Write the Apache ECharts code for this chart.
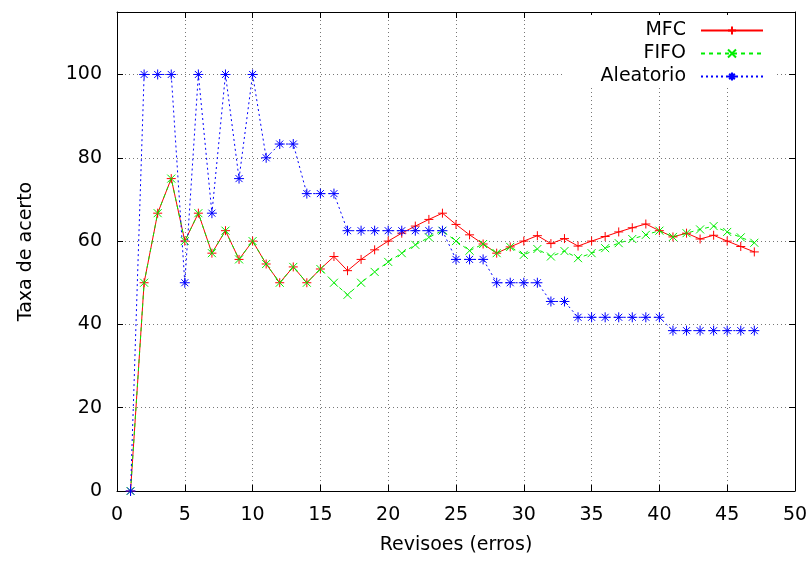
<!DOCTYPE html>
<html>
<head>
<meta charset="utf-8">
<script src="https://cdn.jsdelivr.net/npm/echarts@6/dist/echarts.min.js"></script>
<style>html,body{margin:0;padding:0;background:#fff}#c{width:811px;height:564px}</style>
</head>
<body>
<div id="c"></div>
<script>
const revisoes = [1,2,3,4,5,6,7,8,9,10,11,12,13,14,15,16,17,18,19,20,21,22,23,24,25,26,27,28,29,30,31,32,33,34,35,36,37,38,39,40,41,42,43,44,45,46,47];
const mfc = [0,50,66.7,75,60,66.7,57.1,62.5,55.6,60,54.5,50,53.8,50,53.3,56.3,52.9,55.6,57.9,60,61.9,63.6,65.2,66.7,64,61.5,59.3,57.1,58.6,60,61.3,59.4,60.6,58.8,60,61.1,62.2,63.2,64.1,62.5,61,61.9,60.5,61.4,60,58.7,57.4];
const fifo = [0,50,66.7,75,60,66.7,57.1,62.5,55.6,60,54.5,50,53.8,50,53.3,50,47.1,50,52.6,55,57.1,59.1,60.9,62.5,60,57.7,59.3,57.1,58.6,56.7,58.1,56.3,57.6,55.9,57.1,58.3,59.5,60.5,61.5,62.5,61,61.9,62.8,63.6,62.2,60.9,59.6];
const aleatorio = [0,100,100,100,50,100,66.7,100,75,100,80,83.3,83.3,71.4,71.4,71.4,62.5,62.5,62.5,62.5,62.5,62.5,62.5,62.5,55.6,55.6,55.6,50,50,50,50,45.5,45.5,41.7,41.7,41.7,41.7,41.7,41.7,41.7,38.5,38.5,38.5,38.5,38.5,38.5,38.5];
const seriesNames = ['MFC','FIFO','Aleatorio'];
const xTicks = [0,50,5];
const yTicks = [0,115,20];

const pair = v => revisoes.map((x,i)=>[x,v[i]]);
const FONT = 'DejaVu Sans';
const FS = 19;
const plus = 'path://M0,5L10,5M5,0L5,10';
const cross = 'path://M0,0L10,10M10,0L0,10';
const star = 'path://M0,5L10,5M5,0L5,10M1.5,1.5L8.5,8.5M8.5,1.5L1.5,8.5';

function mk(name, data, color, type, symbol, size){
  return {
    name, type:'line', data: pair(data), symbol, symbolSize: size,
    showAllSymbol: true,
    lineStyle:{color, width:1, type},
    itemStyle:{color, borderColor:color, borderWidth:1},
    emphasis:{disabled:true},
    animation:false
  };
}

const grid = {left:117, right:16, top:12, bottom:73};
const chart = echarts.init(document.getElementById('c'), null, {renderer:'canvas'});
const axisCommon = {
  axisLine:{show:true, onZero:false, lineStyle:{color:'#000', width:1}},
  axisTick:{show:true, inside:true, length:6, lineStyle:{color:'#000'}},
};
function legend(i, top){
  return {
    data:[seriesNames[i]], right:47, top, align:'right', orient:'vertical',
    itemWidth:62, itemHeight:10, itemGap:6, padding:0,
    textStyle:{fontFamily:FONT, fontSize:FS, color:'#000', padding:[0,10,0,0]},
    selectedMode:false
  };
}
chart.setOption({
  backgroundColor:'#fff',
  animation:false,
  grid,
  graphic:[{type:'rect', shape:{x:563, y:15, width:213, height:73}, style:{fill:'#fff'}, z:1}],
  legend:[legend(0,21), legend(1,44), legend(2,67)],
  xAxis:[
    Object.assign({type:'value', min:xTicks[0], max:xTicks[1], interval:xTicks[2], position:'bottom',
      name:'Revisoes (erros)', nameLocation:'middle', nameGap:45,
      nameTextStyle:{fontFamily:FONT, fontSize:FS, color:'#000'},
      axisLabel:{fontFamily:FONT, fontSize:FS, color:'#000', margin:15},
      splitLine:{show:true, lineStyle:{color:'#777', type:[1,3], width:1}}}, axisCommon),
    Object.assign({type:'value', min:xTicks[0], max:xTicks[1], interval:xTicks[2], position:'top',
      axisLabel:{show:false}, splitLine:{show:false}}, axisCommon)
  ],
  yAxis:[
    Object.assign({type:'value', min:yTicks[0], max:yTicks[1], interval:yTicks[2], position:'left',
      name:'Taxa de acerto', nameLocation:'middle', nameGap:81, nameRotate:90,
      nameTextStyle:{fontFamily:FONT, fontSize:FS, color:'#000'},
      axisLabel:{fontFamily:FONT, fontSize:FS, color:'#000', margin:15, showMaxLabel:false},
      splitLine:{show:true, lineStyle:{color:'#777', type:[1,3], width:1}}}, axisCommon),
    Object.assign({type:'value', min:yTicks[0], max:yTicks[1], interval:yTicks[2], position:'right',
      axisLabel:{show:false}, splitLine:{show:false}}, axisCommon)
  ],
  series:[
    mk(seriesNames[0], mfc, '#ff0000', 'solid', plus, 9),
    mk(seriesNames[1], fifo, '#00ee00', [4,4], cross, 8),
    mk(seriesNames[2], aleatorio, '#0000ff', [2,3], star, 10)
  ]
});
</script>
</body>
</html>
